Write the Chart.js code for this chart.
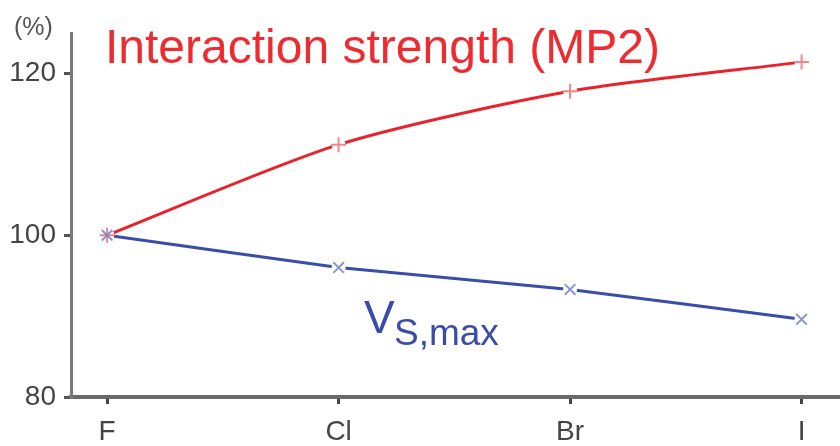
<!DOCTYPE html>
<html><head><meta charset="utf-8">
<script src="https://cdn.jsdelivr.net/npm/chart.js@4/dist/chart.umd.min.js"></script>
<style>html,body{margin:0;padding:0;background:#fff;}canvas{display:block;}</style>
</head><body>
<canvas id="c" width="840" height="446"></canvas>
<script>
const categories = ["F", "Cl", "Br", "I"];
const interaction = [100, 111.2, 117.8, 121.4];
const vsmax = [100, 96.0, 93.3, 89.6];
const yTicks = [80, 100, 120];

const toPts = arr => arr.map((v, i) => ({x: i, y: v}));
const FONT = '"Liberation Sans", Arial, sans-serif';

const labelsPlugin = {
  id: 'labels',
  afterDraw(chart) {
    const ctx = chart.ctx;
    const a = chart.chartArea;
    ctx.save();
    // extend x axis line to the right edge
    ctx.strokeStyle = '#6a6a6a';
    ctx.lineWidth = 4;
    ctx.beginPath();
    ctx.moveTo(a.right - 1, a.bottom);
    ctx.lineTo(chart.width, a.bottom);
    ctx.stroke();
    ctx.textBaseline = 'alphabetic';
    ctx.textAlign = 'left';
    // (%)
    ctx.fillStyle = '#555';
    ctx.font = '25px ' + FONT;
    ctx.fillText('(%)', 14, 35);
    // title
    ctx.fillStyle = '#ee2b30';
    let fs = 46;
    ctx.font = fs + 'px ' + FONT;
    const w = ctx.measureText('Interaction strength (MP2)').width;
    fs = fs * 555 / w;
    ctx.font = fs + 'px ' + FONT;
    ctx.fillText('Interaction strength (MP2)', 105, 63);
    // V s,max
    ctx.fillStyle = '#3b4ba8';
    ctx.font = '46px ' + FONT;
    ctx.fillText('V', 364, 333);
    ctx.font = '37px ' + FONT;
    ctx.fillText('S,max', 394, 345);
    ctx.restore();
  }
};

const markerBase = {showLine: false, pointBorderWidth: 2, pointRadius: 7.5, pointHoverRadius: 7.5};

new Chart(document.getElementById('c'), {
  type: 'line',
  data: {
    datasets: [
      {data: toPts(interaction), borderColor: '#e8232b', borderWidth: 3, tension: 0.25, pointRadius: 0, order: 2},
      {data: toPts(vsmax), borderColor: '#3a4ea8', borderWidth: 3, tension: 0.1, pointRadius: 0, order: 2},
      {data: toPts(interaction), showLine: false, pointStyle: 'circle', pointRadius: 7, pointBorderWidth: 0, pointBackgroundColor: '#fff', order: 1},
      {data: toPts(vsmax), showLine: false, pointStyle: 'circle', pointRadius: 7, pointBorderWidth: 0, pointBackgroundColor: '#fff', order: 1},
      Object.assign({data: toPts(vsmax), pointStyle: 'crossRot', pointBorderColor: 'rgba(120,130,205,0.85)', order: 0}, markerBase),
      Object.assign({data: toPts(interaction), pointStyle: 'cross', pointBorderColor: 'rgba(240,110,120,0.85)', order: 0}, markerBase)
    ]
  },
  options: {
    responsive: false,
    animation: false,
    events: [],
    layout: {padding: {top: 33, right: 0, left: 0, bottom: 0}},
    plugins: {legend: {display: false}, tooltip: {enabled: false}},
    scales: {
      x: {
        type: 'linear',
        min: -0.156, max: 3.125,
        afterBuildTicks(s) { s.ticks = categories.map((c, i) => ({value: i})); },
        afterFit(s) { s.height = 49; },
        ticks: {
          callback: (v) => categories[v] ?? '',
          color: '#444', font: {size: 28, family: FONT}, padding: 11, maxRotation: 0, autoSkip: false
        },
        grid: {drawOnChartArea: false, drawTicks: true, tickLength: 7, color: '#444', lineWidth: 3, tickWidth: 3},
        border: {display: true, color: '#6a6a6a', width: 4}
      },
      y: {
        min: 80, max: 125,
        afterBuildTicks(s) { s.ticks = yTicks.map(v => ({value: v})); },
        afterFit(s) { s.width = 71; },
        ticks: {color: '#444', font: {size: 28, family: FONT}, padding: 8},
        grid: {drawOnChartArea: false, drawTicks: true, tickLength: 7, color: '#555', lineWidth: 3, tickWidth: 3},
        border: {display: true, color: '#7a7a7a', width: 3}
      }
    }
  },
  plugins: [labelsPlugin]
});
</script>
</body></html>
